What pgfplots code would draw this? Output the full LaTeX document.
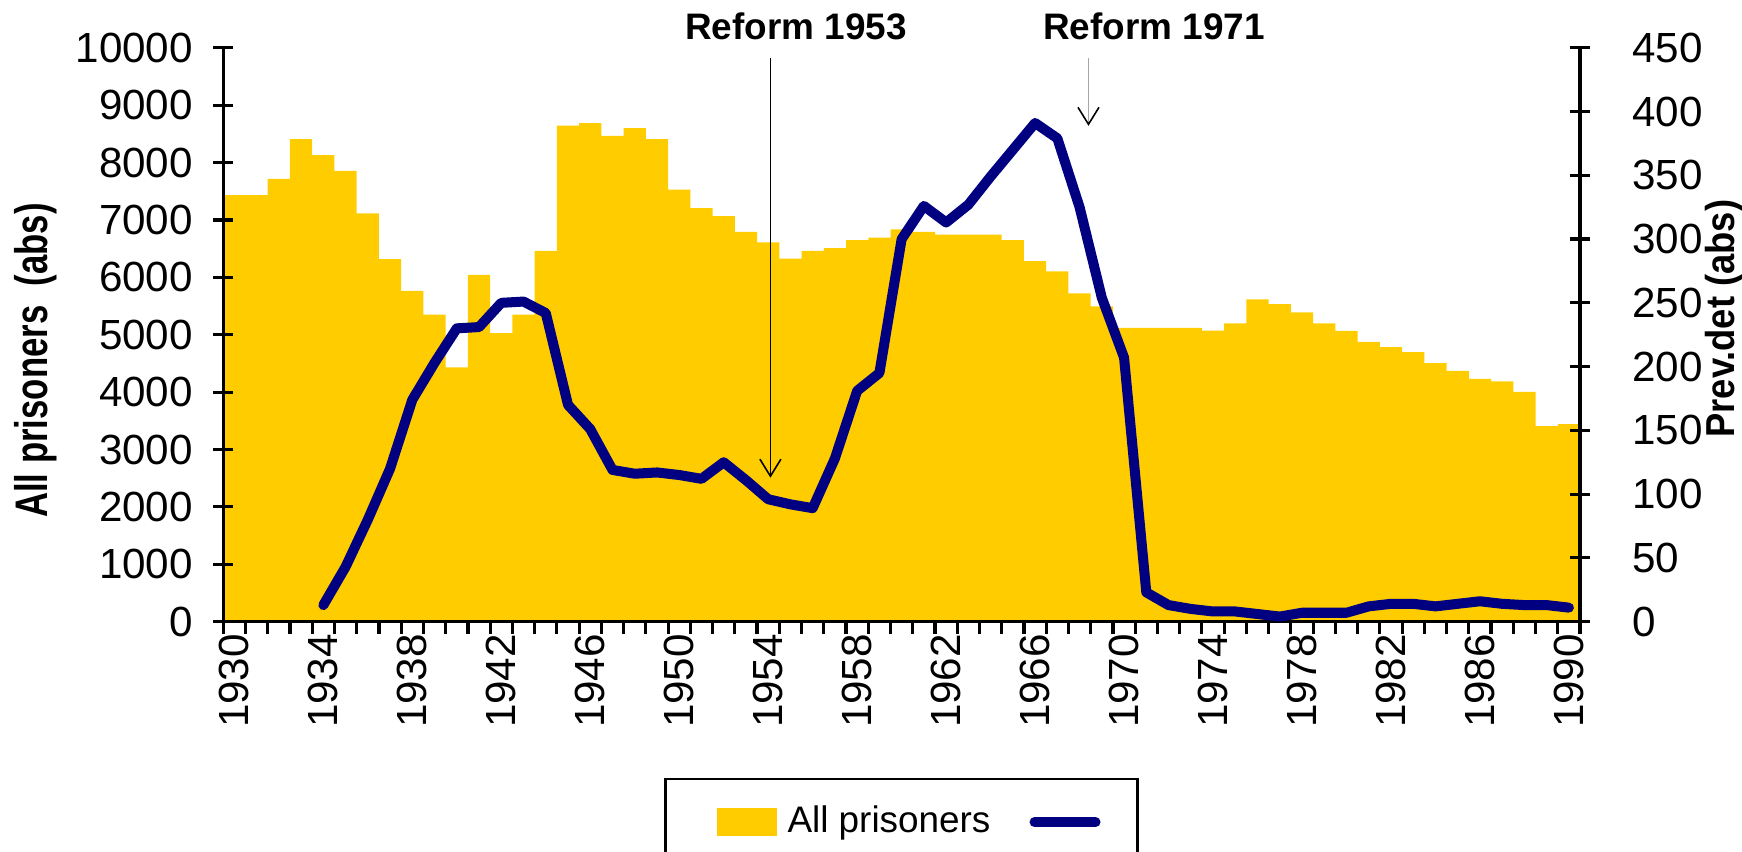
\documentclass[border=0pt]{standalone}
\usepackage{pgfplots}
\pgfplotsset{compat=1.18}
\usepackage{fontspec}
\setmainfont{Liberation Sans}
\usepackage{graphicx}
\usetikzlibrary{arrows.meta}

\definecolor{prisYellow}{HTML}{FFCC00}
\definecolor{prevNavy}{HTML}{000080}
\definecolor{arrowGray}{HTML}{A6A6A6}

\newcommand{\tickfont}{\fontsize{12}{14}\selectfont}
\newcommand{\titlefont}{\fontsize{13}{15}\selectfont\bfseries}
\newcommand{\notefont}{\fontsize{10.5}{12}\selectfont\bfseries}

% shared geometry: one category = one year, bars between ticks
\pgfplotsset{
  common/.style={
    scale only axis, width=135.7mm, height=57.4mm,
    xmin=1930, xmax=1991,
    tick label style={font=\tickfont},
    /pgf/number format/assume math mode=true,
    /pgf/number format/1000 sep={},
    scaled y ticks=false,
    every tick/.style={black, line width=0.9pt},
  },
  noarrows/.style={x axis line style={-, line width=0.9pt}, y axis line style={-, line width=0.9pt}},
}

\begin{document}
\begin{tikzpicture}
% bars and the year axis
\begin{axis}[common,
  axis on top,
  axis x line=bottom, axis y line=none, noarrows,
  ymin=0, ymax=10000,
  tick align=outside, major tick length=1.2mm,
  xtick={1930,1931,...,1991}, xticklabels={},
  extra x ticks={1930.5,1934.5,...,1990.5},
  extra x tick labels={1930,1934,1938,1942,1946,1950,1954,1958,1962,1966,1970,1974,1978,1982,1986,1990},
  extra x tick style={major tick length=0pt},
  xticklabel style={rotate=90, anchor=east},
]
% all prisoners, value for each year (bar spans [year, year+1])
\addplot[const plot, fill=prisYellow, draw=none] coordinates {
  (1930,7434) (1931,7434) (1932,7715) (1933,8410) (1934,8128)
  (1935,7853) (1936,7116) (1937,6319) (1938,5762) (1939,5349)
  (1940,4433) (1941,6044) (1942,5026) (1943,5349) (1944,6463)
  (1945,8644) (1946,8686) (1947,8464) (1948,8602) (1949,8410)
  (1950,7529) (1951,7206) (1952,7068) (1953,6793) (1954,6607)
  (1955,6325) (1956,6463) (1957,6511) (1958,6649) (1959,6691)
  (1960,6835) (1961,6793) (1962,6745) (1963,6745) (1964,6745)
  (1965,6649) (1966,6283) (1967,6104) (1968,5720) (1969,5493)
  (1970,5121) (1971,5121) (1972,5121) (1973,5121) (1974,5070)
  (1975,5198) (1976,5617) (1977,5533) (1978,5389) (1979,5198)
  (1980,5067) (1981,4876) (1982,4786) (1983,4696) (1984,4505)
  (1985,4368) (1986,4230) (1987,4188) (1988,4003) (1989,3406)
  (1990,3442) (1991,3442)
} \closedcycle;
\coordinate (SW) at (rel axis cs:0,0);
\coordinate (NE) at (rel axis cs:1,1);
\end{axis}

% left axis
\begin{axis}[common,
  axis x line=none, axis y line=left, noarrows,
  ymin=0, ymax=10000, ytick={0,1000,...,10000},
  tick align=center, major tick length=2mm,
  yticklabel style={xshift=-0.8mm},
  ylabel={\scalebox{0.76}[1]{All prisoners\ \ (abs)}},
  every axis y label/.style={at={(rel axis cs:0,0.455)}, anchor=center,
    xshift=-18.8mm, rotate=90, font=\titlefont},
]
\end{axis}

% right axis with prev.det line
\begin{axis}[common,
  clip=false,
  axis x line=none, axis y line=right, noarrows,
  ymin=0, ymax=450, ytick={0,50,...,450},
  tick align=center, major tick length=2mm,
  yticklabel style={xshift=3.0mm},
  ylabel={\scalebox{0.9}[1]{Prev.det (abs)}},
  every axis y label/.style={at={(rel axis cs:1,0.528)}, anchor=center,
    xshift=14.4mm, rotate=90, font=\fontsize{11.5}{13}\selectfont\bfseries},
  legend columns=2,
  legend style={at={(0.5,-0.2718)}, anchor=north, draw=black, line width=0.8pt,
    font=\fontsize{10.5}{12}\selectfont, inner xsep=2.3mm, inner ysep=2mm,
    /tikz/every even column/.append style={column sep=3.2mm}},
]
\addlegendimage{legend image code/.code={\path (-2.8mm,0mm) (6.1mm,0mm);
  \fill[prisYellow] (0mm,-1.25mm) rectangle (5.8mm,1.25mm);}}
\addlegendentry{All prisoners}
% prev.det, plotted at the middle of each year
\addplot[prevNavy, line width=2.85pt, line join=round, line cap=round,
  legend image code/.code={\draw[prevNavy, line width=2.85pt, line cap=round] (0mm,0mm) -- (6.1mm,0mm);}]
  coordinates {
  (1934.5,13) (1935.5,43) (1936.5,80) (1937.5,120) (1938.5,174)
  (1939.5,203) (1940.5,230) (1941.5,231) (1942.5,250) (1943.5,251)
  (1944.5,242) (1945.5,170) (1946.5,151) (1947.5,119) (1948.5,116)
  (1949.5,117) (1950.5,115) (1951.5,112) (1952.5,125) (1953.5,111)
  (1954.5,96) (1955.5,92) (1956.5,89) (1957.5,128) (1958.5,181)
  (1959.5,195) (1960.5,300) (1961.5,326) (1962.5,313) (1963.5,327)
  (1964.5,349) (1965.5,370) (1966.5,391) (1967.5,379) (1968.5,325)
  (1969.5,254) (1970.5,207) (1971.5,23) (1972.5,13) (1973.5,10)
  (1974.5,8) (1975.5,8) (1976.5,6) (1977.5,4) (1978.5,7)
  (1979.5,7) (1980.5,7) (1981.5,12) (1982.5,14) (1983.5,14)
  (1984.5,12) (1985.5,14) (1986.5,16) (1987.5,14) (1988.5,13)
  (1989.5,13) (1990.5,11)
};
\addlegendentry{}

% reform markers
\draw[black, line width=0.5pt, -{Straight Barb[length=1.7mm, width=2.1mm, line width=0.45pt]}]
  (axis cs:1954.6,441.9) -- (axis cs:1954.6,112.9);
\draw[arrowGray, line width=0.4pt, -{Straight Barb[length=1.7mm, width=2.1mm, line width=0.45pt, color=black]}]
  (axis cs:1968.9,441.9) -- (axis cs:1968.9,388.8);
\node[font=\notefont] at (axis cs:1955.75,466.5) {Reform 1953};
\node[font=\notefont] at (axis cs:1971.84,466.5) {Reform 1971};
\end{axis}

\pgfresetboundingbox
\path ([xshift=-22.33mm,yshift=-23mm]SW) rectangle ([xshift=16.2mm,yshift=4.78mm]NE);
\end{tikzpicture}
\end{document}
